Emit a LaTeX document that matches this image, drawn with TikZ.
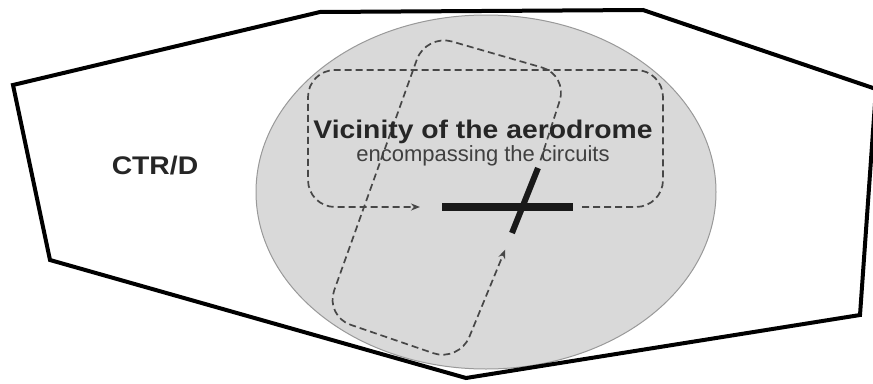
\documentclass[tikz,border=0pt]{standalone}
\usepackage{fontspec}
\setsansfont{Liberation Sans}
\newfontfamily\widesans[FakeStretch=1.11]{Liberation Sans}
\usetikzlibrary{arrows.meta, positioning}
\definecolor{vgray}{HTML}{D9D9D9}
\tikzset{
  ctr/.style = {draw=black, line width=4pt, line join=miter},
  vic/.style = {draw=black!40, fill=vgray, line width=1pt},
  rwy/.style = {draw=black!90, line width=8pt},
  circ/.style = {draw=black!72, line width=1.7pt, dash pattern=on 7pt off 4pt,
    rounded corners=27pt, -{Stealth[length=9pt, width=7pt]}},
  bl/.style = {font=\widesans\bfseries\fontsize{25.5}{28}\selectfont,
    text=black!85, inner sep=0pt, anchor=base},
  sl/.style = {font=\sffamily\fontsize{22}{24}\selectfont, text=black!75,
    inner sep=0pt, anchor=base}
}

\begin{document}
\begin{tikzpicture}[x=1pt, y=-1pt]
  \useasboundingbox (0,0) rectangle (873,383);
  \clip (0,0) rectangle (873,383);
  % vicinity
  \draw [vic] (486,192) ellipse [x radius=230, y radius=177];
  % runways
  \coordinate (rwyW) at (442,207);
  \coordinate (rwyE) at (573,207);
  \coordinate (rwyS) at (512,233);
  \coordinate (rwyN) at (538,168);
  % circuits
  \draw [circ, shorten <=9pt, shorten >=22pt] (rwyE) -- (663,207) -- (663,70)
    -- (308,70) -- (308,207) -- (rwyW);
  \draw [circ, shorten <=8pt, shorten >=18pt] (rwyN) -- (568,75) -- (426,34)
    -- (325,316) -- (459,362) -- (rwyS);
  \draw [rwy] (rwyW) -- (rwyE);
  \draw [rwy, line width=6pt] (rwyS) -- (rwyN);
  % CTR
  \draw [ctr] (13,85) -- (320,12) -- (643,10) -- (876,89) -- (860,315)
    -- (466,378) -- (50,260) -- cycle;
  \node [bl] (ctrd) at (155,174) {CTR/D};
  \node [bl] (vtit) at (483,138) {Vicinity of the aerodrome};
  \node [sl] (vsub) at (483,161) {encompassing the circuits};
\end{tikzpicture}
\end{document}
